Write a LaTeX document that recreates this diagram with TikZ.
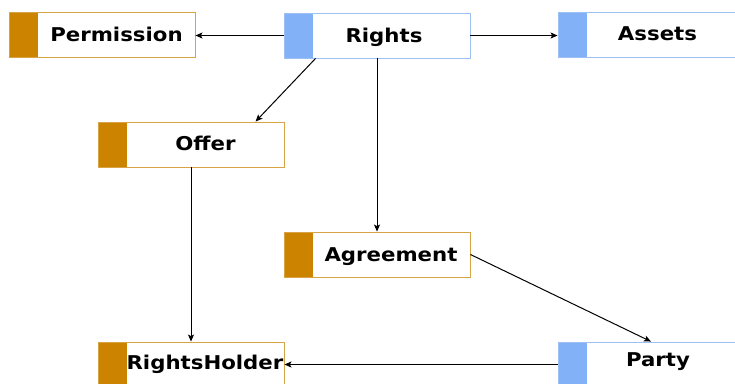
\documentclass[tikz,border=0pt]{standalone}
\usepackage{fontspec}
\setsansfont{DejaVu Sans}
\usetikzlibrary{arrows.meta}
\definecolor{ochre}{HTML}{CC8400}
\definecolor{ochreline}{HTML}{D6A445}
\definecolor{skyblue}{HTML}{82B1F7}
\definecolor{skyblueline}{HTML}{9DC0F5}
\tikzset{
  entity/.style={draw=#1line, line width=0.9pt, minimum width=186pt, minimum height=45pt,
    inner sep=0pt, fill=white,
    path picture={\fill[#1] (path picture bounding box.north west)
      rectangle ([xshift=29pt]path picture bounding box.south west);}},
  label/.style={anchor=base, inner sep=0pt,
    font=\sffamily\bfseries\fontsize{19}{22}\selectfont},
  link/.style={line width=1pt, -{Stealth[length=7pt,width=6pt,inset=1.5pt]}}
}
\newcommand{\wide}[1]{\scalebox{1.12}[1]{#1}}
\begin{document}
\begin{tikzpicture}[x=1pt,y=-1pt]
  \useasboundingbox (0,0) rectangle (735,383);
  \clip (0,0) rectangle (735,383);
  % boxes
  \node[entity=ochre]   (Permission)   at (102,34.5)  {};
  \node[entity=skyblue] (Rights)       at (377,35.5)  {};
  \node[entity=skyblue] (Assets)       at (651,34.5)  {};
  \node[entity=ochre]   (Offer)        at (191,144.5) {};
  \node[entity=ochre]   (Agreement)    at (377,254.5) {};
  \node[entity=ochre]   (RightsHolder) at (191,364.5) {};
  \node[entity=skyblue] (Party)        at (651,364.5) {};
  % names
  \node[label] (tPermission)   at (116.5,41) {\wide{Permission}};
  \node[label] (tRights)       at (384,42)   {\wide{Rights}};
  \node[label] (tAssets)       at (657.5,40) {\wide{Assets}};
  \node[label] (tOffer)        at (205.5,150){\wide{Offer}};
  \node[label] (tAgreement)    at (391,261)  {\wide{Agreement}};
  \node[label] (tRightsHolder) at (205,369)  {\wide{RightsHolder}};
  \node[label] (tParty)        at (658,366)  {\wide{Party}};
  % relations
  \draw[link] (Rights.west) -- (Rights.west -| Permission.east);
  \draw[link] (Rights.east) -- (Rights.east -| Assets.west);
  \draw[link] ([xshift=32pt]Rights.south west) -- ([xshift=158pt]Offer.north west);
  \draw[link] (Rights.south) -- (Agreement.north);
  \draw[link] (Offer.south) -- (RightsHolder.north);
  \draw[link] (Agreement.east) -- (Party.north);
  \draw[link] (Party.west) -- (RightsHolder.east);
\end{tikzpicture}
\end{document}
